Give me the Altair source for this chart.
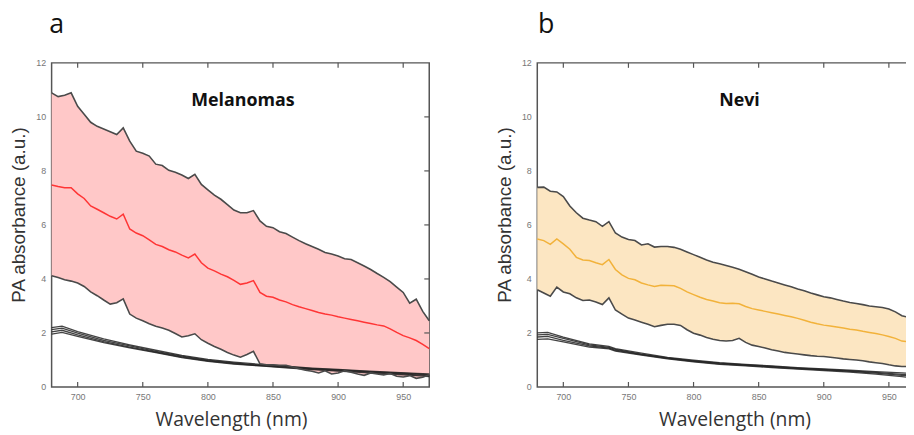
import altair as alt
import pandas as pd

# ---------------- data ----------------
WL = list(range(680, 975, 5))  # 680 ... 970 nm

MEL_UPPER = [10.89, 10.75, 10.80, 10.89, 10.39, 10.10, 9.80, 9.65, 9.55, 9.45,
             9.35, 9.59, 9.10, 8.73, 8.65, 8.55, 8.25, 8.20, 8.02, 7.95,
             7.85, 7.72, 7.87, 7.50, 7.30, 7.10, 6.95, 6.75, 6.55, 6.45,
             6.45, 6.53, 6.15, 5.95, 5.90, 5.75, 5.68, 5.55, 5.42, 5.30,
             5.20, 5.10, 4.98, 4.92, 4.85, 4.75, 4.72, 4.60, 4.48, 4.35,
             4.20, 4.06, 3.90, 3.70, 3.50, 3.10, 3.25, 2.80, 2.45]
MEL_MEAN = [7.48, 7.42, 7.38, 7.38, 7.15, 6.98, 6.70, 6.58, 6.45, 6.32,
            6.22, 6.40, 5.85, 5.70, 5.60, 5.45, 5.28, 5.20, 5.08, 5.00,
            4.88, 4.78, 4.92, 4.60, 4.40, 4.30, 4.18, 4.08, 3.95, 3.80,
            3.85, 3.94, 3.50, 3.36, 3.32, 3.22, 3.15, 3.05, 2.97, 2.90,
            2.83, 2.76, 2.70, 2.66, 2.60, 2.55, 2.50, 2.45, 2.40, 2.35,
            2.30, 2.26, 2.15, 2.02, 1.90, 1.82, 1.72, 1.58, 1.42]
MEL_LOWER = [4.12, 4.05, 3.97, 3.92, 3.85, 3.72, 3.52, 3.38, 3.22, 3.07,
             3.12, 3.26, 2.70, 2.55, 2.45, 2.34, 2.25, 2.18, 2.10, 1.98,
             1.85, 1.90, 1.97, 1.75, 1.62, 1.50, 1.40, 1.28, 1.18, 1.10,
             1.20, 1.32, 0.86, 0.82, 0.82, 0.80, 0.80, 0.74, 0.68, 0.62,
             0.58, 0.52, 0.60, 0.48, 0.52, 0.60, 0.55, 0.48, 0.43, 0.52,
             0.48, 0.45, 0.50, 0.40, 0.37, 0.42, 0.32, 0.36, 0.45]

NEVI_UPPER = [7.39, 7.40, 7.25, 7.22, 7.05, 6.70, 6.45, 6.25, 6.18, 6.12,
              5.95, 6.12, 5.70, 5.55, 5.46, 5.42, 5.26, 5.30, 5.18, 5.20,
              5.20, 5.17, 5.10, 5.00, 4.90, 4.80, 4.70, 4.62, 4.56, 4.50,
              4.43, 4.36, 4.27, 4.17, 4.07, 4.00, 3.92, 3.85, 3.78, 3.71,
              3.63, 3.56, 3.48, 3.41, 3.34, 3.30, 3.24, 3.18, 3.13, 3.09,
              3.05, 3.00, 2.97, 2.94, 2.89, 2.78, 2.64, 2.58, 2.52]
NEVI_MEAN = [5.48, 5.42, 5.28, 5.48, 5.30, 5.10, 4.80, 4.70, 4.68, 4.60,
             4.53, 4.72, 4.35, 4.15, 4.02, 3.97, 3.85, 3.78, 3.72, 3.77,
             3.76, 3.75, 3.65, 3.52, 3.42, 3.32, 3.24, 3.18, 3.12, 3.09,
             3.10, 3.08, 2.98, 2.90, 2.85, 2.80, 2.75, 2.70, 2.65, 2.60,
             2.54, 2.47, 2.40, 2.34, 2.29, 2.26, 2.22, 2.18, 2.14, 2.11,
             2.06, 2.02, 1.98, 1.93, 1.87, 1.80, 1.70, 1.68, 1.66]
NEVI_LOWER = [3.60, 3.48, 3.36, 3.70, 3.52, 3.45, 3.30, 3.20, 3.22, 3.15,
              3.05, 3.30, 2.85, 2.70, 2.55, 2.48, 2.40, 2.32, 2.23, 2.28,
              2.32, 2.32, 2.28, 2.12, 1.99, 1.92, 1.83, 1.77, 1.72, 1.70,
              1.72, 1.80, 1.65, 1.55, 1.50, 1.44, 1.38, 1.33, 1.28, 1.25,
              1.22, 1.19, 1.16, 1.14, 1.13, 1.10, 1.07, 1.04, 1.02, 1.00,
              0.97, 0.93, 0.90, 0.87, 0.82, 0.78, 0.76, 0.76, 0.74]

# background (black) spectra
MEL_BG_WL = [680, 688, 700, 720, 740, 760, 780, 800, 820, 840, 860, 880, 900, 920, 940, 960, 970]
MEL_BG_1 = [2.20, 2.25, 2.05, 1.78, 1.56, 1.36, 1.17, 1.02, 0.92, 0.84, 0.77, 0.70, 0.65, 0.60, 0.55, 0.50, 0.48]
MEL_BG_2 = [2.12, 2.18, 1.99, 1.73, 1.52, 1.32, 1.14, 0.99, 0.89, 0.81, 0.75, 0.68, 0.63, 0.58, 0.53, 0.48, 0.45]
MEL_BG_3 = [2.04, 2.10, 1.93, 1.68, 1.48, 1.29, 1.11, 0.97, 0.87, 0.79, 0.73, 0.66, 0.61, 0.56, 0.51, 0.45, 0.42]
MEL_BG_4 = [1.96, 2.02, 1.87, 1.64, 1.45, 1.27, 1.09, 0.95, 0.85, 0.78, 0.71, 0.64, 0.59, 0.53, 0.48, 0.42, 0.38]

NEVI_BG_WL = [680, 688, 700, 720, 735, 740, 760, 780, 800, 820, 840, 860, 880, 900, 920, 940, 960, 970]
NEVI_BG_1 = [2.00, 2.02, 1.85, 1.60, 1.50, 1.42, 1.25, 1.10, 0.99, 0.90, 0.84, 0.78, 0.72, 0.67, 0.62, 0.57, 0.52, 0.49]
NEVI_BG_2 = [1.93, 1.95, 1.80, 1.56, 1.47, 1.39, 1.22, 1.08, 0.97, 0.88, 0.82, 0.76, 0.70, 0.65, 0.60, 0.54, 0.47, 0.44]
NEVI_BG_3 = [1.85, 1.87, 1.73, 1.52, 1.44, 1.36, 1.20, 1.06, 0.95, 0.86, 0.80, 0.74, 0.68, 0.63, 0.58, 0.51, 0.43, 0.40]
NEVI_BG_4 = [1.76, 1.78, 1.67, 1.48, 1.41, 1.33, 1.18, 1.04, 0.93, 0.84, 0.78, 0.72, 0.66, 0.61, 0.55, 0.48, 0.38, 0.34]

X_TICKS = [700, 750, 800, 850, 900, 950]
Y_TICKS = [0, 2, 4, 6, 8, 10, 12]
Y_INNER_TICKS = [2, 4, 6, 8, 10]
X_DOMAIN = [680, 970]
Y_DOMAIN = [0, 12]

W, H = 381, 327


def panel(upper, mean, lower, bg_wl, bg_curves, fill, line_col, title, title_x, letter, letter_x, xtitle_x):
    band = pd.DataFrame({"wl": WL, "hi": upper, "mean": mean, "lo": lower})
    bg = pd.DataFrame([{"wl": w, "v": v, "curve": i}
                       for i, c in enumerate(bg_curves) for w, v in zip(bg_wl, c)])
    xs = alt.Scale(domain=X_DOMAIN, nice=False, zero=False)
    ys = alt.Scale(domain=Y_DOMAIN, nice=False)
    xaxis = alt.Axis(values=X_TICKS, ticks=False, domain=False, grid=False,
                     labelFontSize=9, labelColor="#777", labelFont="Liberation Sans",
                     labelPadding=6, title="Wavelength (nm)", titleFont="Open Sans",
                     titleFontSize=19.5, titleFontWeight="normal", titleColor="#333",
                     titleX=xtitle_x, titleY=33, titleBaseline="middle", titleAlign="center")
    yaxis = alt.Axis(values=Y_TICKS, ticks=False, domain=False, grid=False,
                     labelFontSize=9, labelColor="#777", labelFont="Liberation Sans",
                     labelPadding=6, title="PA absorbance (a.u.)", titleFont="Liberation Sans",
                     titleFontSize=19, titleFontWeight="normal", titleColor="#333",
                     titleX=-33, titleY=153, titleAngle=270, titleBaseline="middle",
                     titleAlign="center")
    X = lambda f: alt.X(f, scale=xs, axis=xaxis, title="Wavelength (nm)")
    Y = lambda f: alt.Y(f, scale=ys, axis=yaxis, title="PA absorbance (a.u.)")

    base = alt.Chart(band)
    area = base.mark_area(color=fill, opacity=1).encode(x=X("wl:Q"), y=Y("lo:Q"), y2="hi:Q")
    hi_line = base.mark_line(color="#4a4a4a", strokeWidth=1.6).encode(x=X("wl:Q"), y=Y("hi:Q"))
    lo_line = base.mark_line(color="#4a4a4a", strokeWidth=1.6).encode(x=X("wl:Q"), y=Y("lo:Q"))
    mean_line = base.mark_line(color=line_col, strokeWidth=1.5).encode(x=X("wl:Q"), y=Y("mean:Q"))
    bg_lines = alt.Chart(bg).mark_line(color="#222", strokeWidth=1.3, opacity=0.85).encode(
        x=X("wl:Q"), y=Y("v:Q"), detail="curve:N")

    xt = pd.DataFrame({"t": X_TICKS})
    yt = pd.DataFrame({"t": Y_INNER_TICKS})
    top_ticks = alt.Chart(xt).mark_rule(color="#555", strokeWidth=1.2).encode(
        x=alt.X("t:Q", scale=xs, axis=xaxis), y=alt.value(0), y2=alt.value(5))
    bot_ticks = alt.Chart(xt).mark_rule(color="#555", strokeWidth=1.2).encode(
        x=alt.X("t:Q", scale=xs, axis=xaxis), y=alt.value(H), y2=alt.value(H - 5))
    right_ticks = alt.Chart(yt).mark_rule(color="#555", strokeWidth=1.2).encode(
        y=alt.Y("t:Q", scale=ys, axis=yaxis), x=alt.value(W), x2=alt.value(W - 5))

    title_txt = alt.Chart(pd.DataFrame({"s": [title]})).mark_text(
        font="Open Sans", fontSize=18, fontWeight="bold", color="#111",
        align="center", baseline="middle").encode(
        x=alt.value(title_x), y=alt.value(39), text="s:N")
    letter_txt = alt.Chart(pd.DataFrame({"s": [letter]})).mark_text(
        font="Open Sans", fontSize=27, color="#111",
        align="center", baseline="alphabetic").encode(
        x=alt.value(letter_x), y=alt.value(-30), text="s:N")

    return alt.layer(area, bg_lines, hi_line, lo_line, mean_line,
                     top_ticks, bot_ticks, right_ticks, title_txt, letter_txt).properties(
        width=W, height=H)


pa = panel(MEL_UPPER, MEL_MEAN, MEL_LOWER, MEL_BG_WL,
           [MEL_BG_1, MEL_BG_2, MEL_BG_3, MEL_BG_4],
           "#FFC8C8", "#FF3535", "Melanomas", 193, "a", 5, 181)
pb = panel(NEVI_UPPER, NEVI_MEAN, NEVI_LOWER, NEVI_BG_WL,
           [NEVI_BG_1, NEVI_BG_2, NEVI_BG_3, NEVI_BG_4],
           "#FCE6C2", "#F2B23A", "Nevi", 204, "b", 9, 199)

chart = alt.hconcat(pa, pb, spacing=62).properties(
    autosize=alt.AutoSizeParams(type="none"),
    padding={"left": 44, "top": 52, "right": 862, "bottom": 375},
    background="white",
).configure_view(stroke="#555", strokeWidth=1.5)

chart.save("out.html", embed_options={"renderer": "svg", "actions": False})
